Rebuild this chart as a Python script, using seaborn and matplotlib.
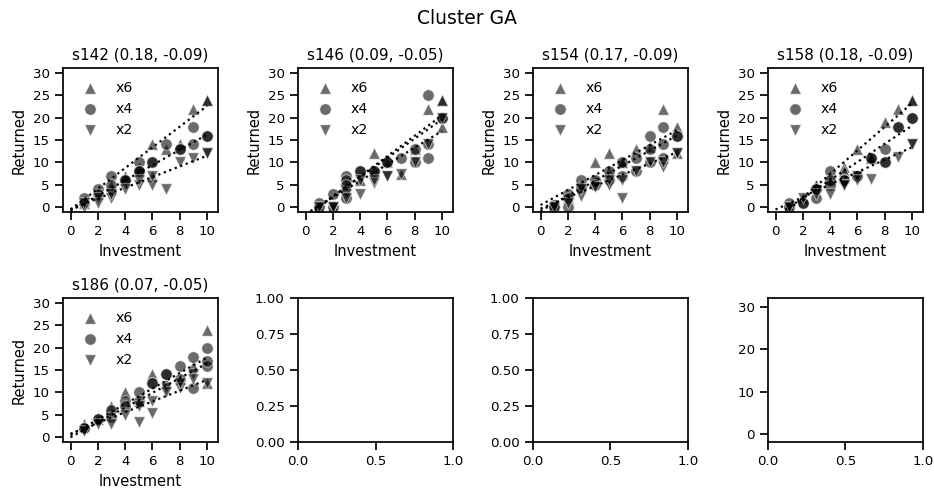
import numpy as np
import pandas as pd
import matplotlib
matplotlib.use("Agg")
import matplotlib.pyplot as plt
from matplotlib.ticker import FormatStrFormatter
import seaborn as sns

# Subjects of the cluster and their fitted parameters
subjects = ["s142", "s146", "s154", "s158", "s186"]
param_a = [0.18, 0.09, 0.17, 0.18, 0.07]
param_b = [-0.09, -0.05, -0.09, -0.09, -0.05]
multipliers = ["x6", "x4", "x2"]

# s142
s142_x6_inv = [1, 2, 3, 3, 4, 4, 5, 5, 6, 6, 7, 8, 9, 10, 10]
s142_x6_ret = [1, 3, 4, 5, 6, 7, 8, 9, 14, 7, 13, 14, 22, 24, 24]
s142_x4_inv = [1, 1, 2, 2, 3, 3, 4, 4, 5, 5, 5, 6, 6, 7, 8, 8, 9, 9, 10, 10]
s142_x4_ret = [2, 1, 4, 3, 7, 5, 6, 6, 10, 8, 8, 10, 10, 14, 13, 13, 18, 14, 16, 16]
s142_x2_inv = [1, 1, 2, 2, 3, 3, 4, 5, 5, 6, 6, 7, 8, 9, 10, 10]
s142_x2_ret = [0, 1, 2, 1, 2, 3, 4, 5, 6, 5, 7, 4, 10, 11, 12, 12]

# s146
s146_x6_inv = [1, 2, 3, 3, 4, 5, 5, 6, 7, 8, 9, 10, 10, 10]
s146_x6_ret = [0, 0, 4, 5, 6, 12, 8, 10, 7.5, 13, 22, 24, 24, 18]
s146_x4_inv = [1, 1, 2, 2, 3, 3, 3, 3, 4, 4, 5, 5, 6, 6, 7, 8, 8, 9, 9, 9, 10, 10]
s146_x4_ret = [1, 0, 3, 0, 7, 6, 5, 2, 8, 8, 8, 8, 10, 10, 11, 13, 10, 25, 14, 11, 20, 20]
s146_x2_inv = [1, 2, 2, 3, 3, 4, 4, 5, 5, 6, 6, 7, 8, 9, 10]
s146_x2_ret = [0, 0, 0, 3, 2, 3, 6, 5.5, 6, 7, 7, 7.5, 10, 14, 20]

# s154
s154_x6_inv = [1, 2, 3, 4, 4, 5, 5, 6, 6, 7, 8, 9, 10, 10]
s154_x6_ret = [0.5, 2, 5, 10, 6, 12, 8, 10, 10, 13, 13.5, 22, 18, 12]
s154_x4_inv = [1, 1, 2, 2, 2, 3, 3, 4, 4, 5, 5, 6, 6, 7, 7, 8, 8, 8, 9, 9, 9, 10, 10]
s154_x4_ret = [0.5, 0, 3, 0, 2, 6, 4.5, 6, 5, 8, 6, 10, 7, 11, 8, 16, 13, 10, 18, 14, 11, 16, 16]
s154_x2_inv = [1, 2, 3, 3, 4, 5, 5, 6, 6, 7, 8, 9, 9, 10, 10]
s154_x2_ret = [0, 1, 2.5, 4, 4.5, 5, 6, 2, 6, 8, 10, 9, 10, 12, 12]

# s158
s158_x6_inv = [1, 2, 3, 3, 4, 4, 5, 5, 6, 7, 7, 8, 9, 10, 10]
s158_x6_ret = [0, 2, 5, 5, 7, 6, 9, 8, 13, 11, 11, 19, 22, 24, 24]
s158_x4_inv = [1, 1, 2, 2, 3, 3, 3, 4, 4, 4, 5, 5, 6, 6, 7, 7, 8, 8, 8, 9, 9, 10, 10]
s158_x4_ret = [1, 0, 1, 1, 2, 4, 4, 8, 6, 5, 6, 6, 7, 7, 11, 11, 13, 10, 10, 18, 18, 20, 20]
s158_x2_inv = [1, 2, 3, 4, 5, 5, 6, 6, 7, 9, 10, 10]
s158_x2_ret = [0, 2, 3, 3, 5, 5, 7, 6, 6.3, 11.3, 14, 14]

# s186
s186_x6_inv = [1, 2, 3, 4, 5, 6, 7, 8, 9, 10, 10]
s186_x6_ret = [3, 4, 7, 10, 8, 14, 12, 13, 16, 24, 12]
s186_x4_inv = [1, 1, 2, 2, 3, 3, 4, 4, 5, 5, 6, 6, 7, 7, 8, 8, 9, 9, 10, 10, 10]
s186_x4_ret = [2, 2, 4, 4, 6, 4.5, 8, 7, 10, 8, 12, 12, 14, 14, 16, 13, 18, 11, 20, 16, 17]
s186_x2_inv = [1, 2, 3, 4, 5, 5, 6, 6, 7, 7, 8, 8, 9, 9, 10]
s186_x2_ret = [1.5, 3, 3, 5, 3.5, 7, 5.5, 8, 11, 10, 11, 12, 14, 13, 12]

# Model predictions at investment 0 and 10 (order: x6, x4, x2)
fit_inv = [0, 10]
s142_fit0, s142_fit10 = [-0.5, -0.8, -0.4], [22.6, 16.2, 11.5]
s146_fit0, s146_fit10 = [-2.2, -1.8, -1.5], [20.5, 19.6, 17.0]
s154_fit0, s154_fit10 = [0.5, -0.8, -0.3], [17.2, 16.0, 12.3]
s158_fit0, s158_fit10 = [-3.1, -2.0, -0.5], [23.2, 18.2, 13.4]
s186_fit0, s186_fit10 = [0.5, 0.0, 0.8], [17.8, 16.5, 12.8]

g = globals()
frames = []
for s in subjects:
    for m in multipliers:
        frames.append(pd.DataFrame({"subject": s, "mult": m,
                                    "Investment": g[f"{s}_{m}_inv"],
                                    "Returned": g[f"{s}_{m}_ret"]}))
data = pd.concat(frames, ignore_index=True)

fits = []
for s in subjects:
    for i, m in enumerate(multipliers):
        fits.append(pd.DataFrame({"subject": s, "mult": m, "Investment": fit_inv,
                                  "Returned": [g[f"{s}_fit0"][i], g[f"{s}_fit10"][i]]}))
fit_data = pd.concat(fits, ignore_index=True)

sns.set_theme(style="ticks", context="notebook")
plt.rcParams.update({
    "font.family": ["DejaVu Sans"],
    "xtick.labelsize": 9.6,
    "ytick.labelsize": 9.6,
    "axes.labelsize": 10.5,
    "axes.titlesize": 11,
    "legend.fontsize": 10.2,
    "text.color": "black",
    "axes.labelcolor": "black",
    "axes.edgecolor": "black",
    "xtick.color": "black",
    "ytick.color": "black",
})

markers = {"x6": "^", "x4": "o", "x2": "v"}

fig, axes = plt.subplots(2, 4, figsize=(9.34, 4.96), dpi=100)
fig.subplots_adjust(left=63 / 934, right=923 / 934, top=1 - 68 / 496,
                    bottom=1 - 442 / 496, wspace=0.516, hspace=0.597)
flat = axes.ravel()

for k, s in enumerate(subjects):
    ax = flat[k]
    sub = data[data["subject"] == s]
    for m in multipliers:
        d = sub[sub["mult"] == m]
        sns.scatterplot(data=d, x="Investment", y="Returned", marker=markers[m],
                        color="black", alpha=0.58, s=68, label=m, ax=ax)
    fsub = fit_data[fit_data["subject"] == s]
    for m in multipliers:
        f = fsub[fsub["mult"] == m]
        sns.lineplot(data=f, x="Investment", y="Returned", color="black",
                     linestyle=":", linewidth=1.6, ax=ax, legend=False)
    ax.set_xlim(-0.55, 10.8)
    ax.set_ylim(-1.05, 31.05)
    ax.set_xticks([0, 2, 4, 6, 8, 10])
    ax.set_yticks([0, 5, 10, 15, 20, 25, 30])
    ax.set_title(f"{s} ({param_a[k]:.2f}, {param_b[k]:.2f})")
    ax.legend(loc="upper left", frameon=False)

# Unused panels
for ax in flat[5:7]:
    ax.set_xlim(0, 1)
    ax.set_ylim(0, 1)
    ax.set_xticks([0, 0.5, 1])
    ax.set_yticks([0, 0.25, 0.5, 0.75, 1])
    ax.yaxis.set_major_formatter(FormatStrFormatter("%.2f"))
    ax.xaxis.set_major_formatter(FormatStrFormatter("%.1f"))
flat[7].set_xlim(0, 1)
flat[7].set_xticks([0, 0.5, 1])
flat[7].xaxis.set_major_formatter(FormatStrFormatter("%.1f"))
flat[7].set_ylim(-1.8, 32)
flat[7].set_yticks([0, 10, 20, 30])

fig.suptitle("Cluster GA", fontsize=13.5, y=0.982)
fig.savefig("out.png", dpi=100)
